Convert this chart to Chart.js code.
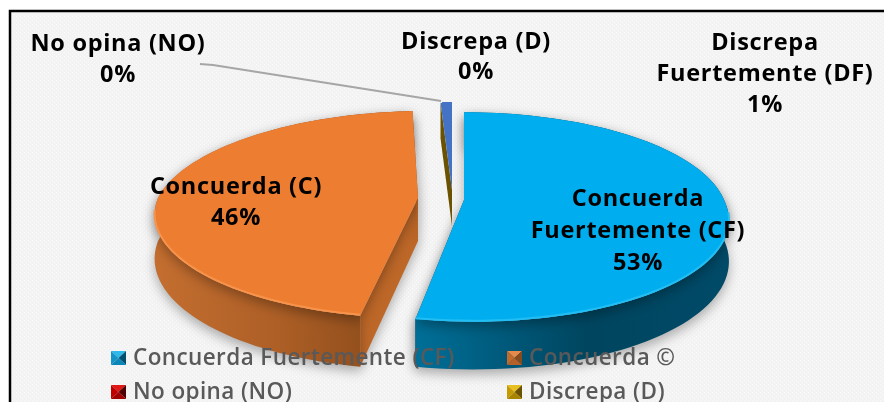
<!DOCTYPE html>
<html>
<head>
<meta charset="utf-8">
<title>Encuesta</title>
<style>
  html, body { margin: 0; padding: 0; background: #fff; overflow: hidden; }
  #wrap { width: 884px; height: 402px; position: relative; }
</style>
<script src="https://cdn.jsdelivr.net/npm/chart.js@4"></script>
</head>
<body>
<div id="wrap"><canvas id="chart" width="884" height="402"></canvas></div>
<script>
/* ---------- Data ---------- */
const categories = ["Concuerda Fuertemente (CF)", "Concuerda (C)", "No opina (NO)", "Discrepa (D)", "Discrepa Fuertemente (DF)"];
const percents = [53, 46, 0, 0, 1];
const labelLines = [["Concuerda", "Fuertemente (CF)"], ["Concuerda (C)"], ["No opina (NO)"], ["Discrepa (D)"], ["Discrepa", "Fuertemente (DF)"]];
const legendLabels = ["Concuerda Fuertemente (CF)", "Concuerda ©", "No opina (NO)", "Discrepa (D)"];

/* ---------- Styles ---------- */
const topColors = ["#00aeef", "#ed7d31", "#c00000", "#c49a00", "#4472c4"];
const edgeColors = ["#22bdf3", "#f7934a"];
const cutColors = ["#00506e", "#bd6728", "#800000", "#6b5200", "#6b5200"];
const rimStops = [
  { from: 415, to: 728, stops: [[0, "#006f98"], [0.55, "#00455f"], [1, "#004a68"]] },
  { from: 155, to: 360, stops: [[0, "#c46e30"], [0.6, "#ad5f26"], [1, "#94501d"]] }
];
// swatch colours: top, left, right, bottom of the little pyramid
const swatches = [
  ["#2fb8ea", "#1294c6", "#004f70", "#0a86b8"],
  ["#e58a4a", "#c46a2a", "#8a4a1c", "#b5622a"],
  ["#e01818", "#c00000", "#500000", "#a00000"],
  ["#e8bf20", "#c49a00", "#6b5200", "#a88400"]
];
// one projection per slice: exploded centre, radii, perspective, front/back shear, wall height
const views = [
  { cx: 464, cy: 200, a: 260, b: 102, k: 0.162, sf: 8, sb: 0, d: 40 },
  { cx: 418, cy: 198, a: 260, b: 101, k: 0.16, sf: 0, sb: -10, d: 43 },
  null,
  null,
  { cx: 452, cy: 190, a: 183, b: 88, k: 0, sf: 0, sb: 0, d: 36 }
];
const labelPos = [[638, 199], [236, 187], [118, 44], [476, 42], [765, 43]];
const labelGap = [32, 31, 31, 30, 31];
const legendPos = [[111, 359], [507, 359], [111, 393], [507, 393]];

/* ---------- Tilted arc: library keeps the angles, we only project them ---------- */
function project(v, ang, r, down) {
  const px = Math.cos(ang) * r, py = Math.sin(ang) * r;
  const w = 1 - v.k * py;
  const shear = (py > 0 ? v.sf : v.sb) * py;
  return [v.cx + (v.a * px + shear) / w, v.cy + v.b * py / w + (down ? v.d / w : 0)];
}
function trace(ctx, pts) {
  ctx.beginPath();
  pts.forEach((p, i) => i ? ctx.lineTo(p[0], p[1]) : ctx.moveTo(p[0], p[1]));
  ctx.closePath();
}
Chart.ArcElement.prototype.draw = function (ctx) {
  const idx = this.$context.dataIndex;
  const v = views[idx];
  if (!v || !this.circumference) return;
  const { startAngle, endAngle } = this.getProps(["startAngle", "endAngle"], true);
  const rim = [], rimLow = [];
  for (let i = 0; i <= 90; i++) {
    const ang = startAngle + (endAngle - startAngle) * i / 90;
    rim.push(project(v, ang, 1, false));
    rimLow.push(project(v, ang, 1, true));
  }
  const apex = project(v, 0, 0, false), apexLow = project(v, 0, 0, true);
  ctx.save();
  const wide = idx < 2;
  if (wide) {
    ctx.shadowColor = "rgba(0,0,0,0.3)";
    ctx.shadowBlur = 12;
    ctx.shadowOffsetY = 5;
  }
  // cut faces
  ctx.fillStyle = cutColors[idx];
  trace(ctx, [apex, rim[0], rimLow[0], apexLow]); ctx.fill();
  trace(ctx, [apex, rim[90], rimLow[90], apexLow]); ctx.fill();
  // outer wall
  if (wide) {
    const r = rimStops[idx];
    const g = ctx.createLinearGradient(r.from, 0, r.to, 0);
    r.stops.forEach(s => g.addColorStop(s[0], s[1]));
    ctx.fillStyle = g;
    trace(ctx, rim.concat(rimLow.slice().reverse())); ctx.fill();
  }
  // top face
  ctx.fillStyle = topColors[idx];
  trace(ctx, [apex].concat(rim)); ctx.fill();
  ctx.shadowColor = "transparent";
  // bevel along the front of the rim
  if (wide) {
    ctx.strokeStyle = edgeColors[idx];
    ctx.lineWidth = 2;
    ctx.beginPath();
    rim.forEach((p, i) => {
      const ang = startAngle + (endAngle - startAngle) * i / 90;
      if (Math.sin(ang) < 0.12) return;
      ctx.lineTo(p[0], p[1] - 1);
    });
    ctx.stroke();
  }
  ctx.restore();
};

/* ---------- Plugins ---------- */
const backdrop = {
  id: "backdrop",
  beforeDraw(chart) {
    const ctx = chart.ctx;
    const tile = document.createElement("canvas");
    tile.width = 4; tile.height = 4;
    const t = tile.getContext("2d");
    t.fillStyle = "#f3f3f3"; t.fillRect(0, 0, 4, 4);
    t.fillStyle = "#fafafa"; t.fillRect(0, 0, 1, 1); t.fillRect(2, 2, 1, 1);
    ctx.save();
    ctx.fillStyle = "#fff"; ctx.fillRect(0, 0, 884, 402);
    ctx.fillStyle = ctx.createPattern(tile, "repeat");
    ctx.fillRect(10, 11, 874, 391);
    ctx.strokeStyle = "#000"; ctx.lineWidth = 2.5;
    ctx.beginPath();
    ctx.moveTo(10, 402); ctx.lineTo(10, 11); ctx.lineTo(884, 11);
    ctx.stroke();
    ctx.restore();
  }
};
function drawSwatch(ctx, x, y, c) {
  const w = 15, h = 14, mx = x + w / 2, my = y + h / 2;
  const tris = [[[x, y], [x + w, y]], [[x, y], [x, y + h]], [[x + w, y], [x + w, y + h]], [[x, y + h], [x + w, y + h]]];
  tris.forEach((t, i) => {
    ctx.fillStyle = c[i];
    trace(ctx, [t[0], t[1], [mx, my]]);
    ctx.fill();
  });
}
const annotate = {
  id: "annotate",
  afterDraw(chart) {
    const ctx = chart.ctx;
    ctx.save();
    // leader line
    ctx.strokeStyle = "#a6a6a6"; ctx.lineWidth = 2;
    ctx.beginPath(); ctx.moveTo(200, 64); ctx.lineTo(213, 65); ctx.lineTo(441, 101); ctx.stroke();
    // data labels
    ctx.fillStyle = "#000"; ctx.textAlign = "center"; ctx.textBaseline = "middle";
    ctx.font = "bold 23.5px 'Open Sans'";
    ctx.letterSpacing = "0.7px";
    percents.forEach((p, i) => {
      const lines = labelLines[i].concat(p + "%");
      lines.forEach((txt, j) => ctx.fillText(txt, labelPos[i][0], labelPos[i][1] + j * labelGap[i]));
    });
    // legend
    ctx.textAlign = "left";
    ctx.font = "600 22.5px 'Open Sans'";
    ctx.letterSpacing = "0.4px";
    legendLabels.forEach((txt, i) => {
      const [x, y] = legendPos[i];
      drawSwatch(ctx, x, y - 8, swatches[i]);
      ctx.fillStyle = "#595959"; ctx.fillText(txt, x + 22, y);
    });
    ctx.restore();
  }
};

/* ---------- Chart ---------- */
new Chart(document.getElementById("chart"), {
  type: "pie",
  data: { labels: categories, datasets: [{ data: percents, backgroundColor: topColors, borderWidth: 0 }] },
  options: {
    responsive: false,
    animation: false,
    events: [],
    plugins: { legend: { display: false }, tooltip: { enabled: false } }
  },
  plugins: [backdrop, annotate]
});
</script>
</body>
</html>
